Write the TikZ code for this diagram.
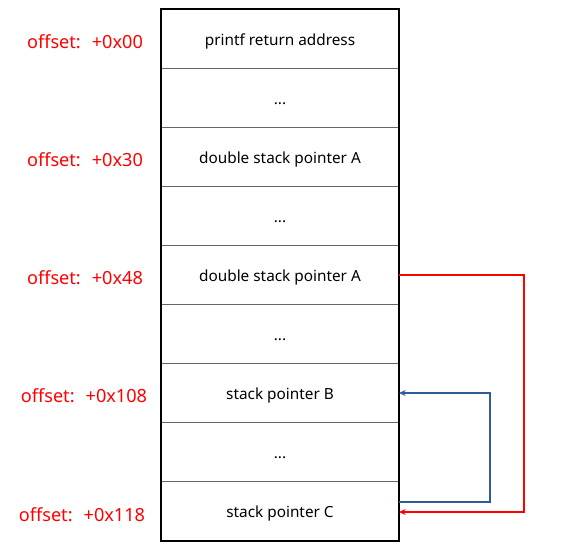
\documentclass[tikz,border=0pt]{standalone}
\usepackage{fontspec}
\setmainfont{Noto Sans}
\usetikzlibrary{arrows.meta}
\definecolor{myblue}{HTML}{2E5C97}
\definecolor{myred}{HTML}{FF0000}
\begin{document}
\begin{tikzpicture}[x=0.75pt,y=-0.75pt,
  cell/.style={draw=black!60,line width=0.75pt,minimum width=177.75pt,minimum height=44.25pt,inner sep=0pt,text height=9.1pt,text depth=0pt,font=\fontsize{11.5pt}{13pt}\selectfont,anchor=north west},
  lbl/.style={text=myred,font=\fontsize{13.6pt}{15pt}\selectfont},
  redarr/.style={draw=myred,line width=1.5pt,-{Stealth[length=5pt,width=4.5pt]}},
  bluearr/.style={draw=myblue,line width=1.5pt,-{Stealth[length=5pt,width=4.5pt]}}]
\useasboundingbox (0,0) rectangle (575,553);
\node[cell] (r1) at (161,9) {printf return address};
\node[cell] (r2) at (161,68) {...};
\node[cell] (r3) at (161,127) {double stack pointer A};
\node[cell] (r4) at (161,186) {...};
\node[cell] (r5) at (161,245) {double stack pointer A};
\node[cell] (r6) at (161,304) {...};
\node[cell] (r7) at (161,363) {stack pointer B};
\node[cell] (r8) at (161,422) {...};
\node[cell] (r9) at (161,481) {stack pointer C};
\draw[black,line width=0.9pt] (r1.north west) rectangle (r9.south east);
\node[lbl] (l1) at (85,42) {offset:~ +0x00};
\node[lbl] (l3) at (85,160) {offset:~ +0x30};
\node[lbl] (l5) at (85,278) {offset:~ +0x48};
\node[lbl] (l7) at (84,396) {offset:~ +0x108};
\node[lbl] (l9) at (82,515) {offset:~ +0x118};
\coordinate (rc) at (524,0);
\coordinate (bc) at (490,0);
\draw[redarr] (r5.east) -- (rc |- r5.east) -- (rc |- {0,512}) -- (r9.east |- {0,512});
\draw[bluearr] (r9.east |- {0,502}) -- (bc |- {0,502}) -- (bc |- r7.east) -- (r7.east);
\end{tikzpicture}
\end{document}
